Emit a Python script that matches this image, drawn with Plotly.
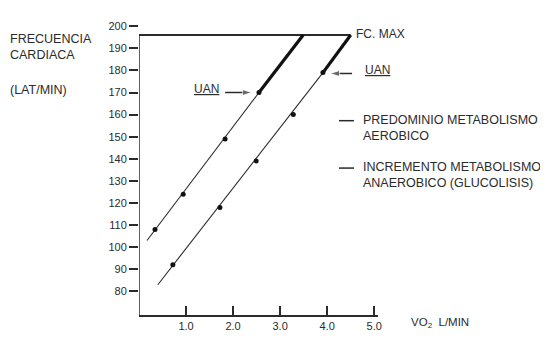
import plotly.graph_objects as go

# ---- data ----
# Line 1 (upper curve)
l1_thin_x = [0.17, 2.55]
l1_thin_y = [103, 170]
l1_thick_x = [2.55, 3.49]
l1_thick_y = [170, 196]
l1_pts_x = [0.34, 0.94, 1.83, 2.55]
l1_pts_y = [108, 124, 149, 170]

# Line 2 (lower curve)
l2_thin_x = [0.40, 3.91]
l2_thin_y = [83, 179]
l2_thick_x = [3.91, 4.50]
l2_thick_y = [179, 196]
l2_pts_x = [0.72, 1.72, 2.49, 3.28, 3.91]
l2_pts_y = [92, 118, 139, 160, 179]

fc_max = 196
fc_x = [0, 4.50]

# UAN arrows (tail, tip)
uan1_arrow_x = [1.83, 2.40]
uan1_arrow_y = [170, 170]
uan2_arrow_x = [4.53, 4.06]
uan2_arrow_y = [178.6, 178.6]

x_tickvals = [1, 2, 3, 4, 5]
x_ticktext = ["1.0", "2.0", "3.0", "4.0", "5.0"]
y_tickvals = [80, 90, 100, 110, 120, 130, 140, 150, 160, 170, 180, 190, 200]

# ---- layout geometry (page has an 8px body margin) ----
OFF = 8
W, H = 548 - OFF, 344 - OFF
PL, PR, PT, PB = 139, 378, 20, 327   # plot area in page pixels
L, R, T, B = PL - OFF, W - (PR - OFF), PT - OFF, H - (PB - OFF)
XR = [0, 5.08]
YR = [69.3, 201]
pw = PR - PL
ph = PB - PT


def px_x(p):
    return (p - PL) / pw


def px_y(p):
    return (PB - p) / ph


INK = "#2b2b2b"
FONT = "Liberation Sans, Arial, sans-serif"

fig = go.Figure()

# FC max line
fig.add_trace(go.Scatter(x=fc_x, y=[fc_max, fc_max], mode="lines",
                         line=dict(color=INK, width=2), hoverinfo="skip"))
# y axis line (ends at FC max)
fig.add_trace(go.Scatter(x=[0, 0], y=[YR[0], fc_max], mode="lines",
                         line=dict(color=INK, width=1.5), hoverinfo="skip"))

for tx, ty, kx, ky, px_, py_ in [
    (l1_thin_x, l1_thin_y, l1_thick_x, l1_thick_y, l1_pts_x, l1_pts_y),
    (l2_thin_x, l2_thin_y, l2_thick_x, l2_thick_y, l2_pts_x, l2_pts_y),
]:
    fig.add_trace(go.Scatter(x=tx, y=ty, mode="lines",
                             line=dict(color=INK, width=1.1), hoverinfo="skip"))
    fig.add_trace(go.Scatter(x=kx, y=ky, mode="lines",
                             line=dict(color="#111", width=3.2), hoverinfo="skip"))
    fig.add_trace(go.Scatter(x=px_, y=py_, mode="markers",
                             marker=dict(color="#111", size=5), hoverinfo="skip"))

# UAN arrows
for ax_, ay_ in [(uan1_arrow_x, uan1_arrow_y), (uan2_arrow_x, uan2_arrow_y)]:
    fig.add_trace(go.Scatter(x=ax_, y=ay_, mode="lines+markers",
                             line=dict(color=INK, width=1.5),
                             marker=dict(symbol="arrow", angleref="previous",
                                         size=[0, 10], color=INK),
                             hoverinfo="skip"))

ann = []
# FC. MAX label
ann.append(dict(x=4.57, y=fc_max + 0.3, xref="x", yref="y", text="FC. MAX",
                showarrow=False, xanchor="left", yanchor="middle",
                font=dict(size=12, color=INK, family=FONT)))
ann.append(dict(x=1.12, y=171.5, xref="x", yref="y", text="<u>UAN</u>",
                showarrow=False, xanchor="left", yanchor="middle",
                font=dict(size=12, color=INK, family=FONT)))
ann.append(dict(x=4.77, y=180.3, xref="x", yref="y", text="<u>UAN</u>",
                showarrow=False, xanchor="left", yanchor="middle",
                font=dict(size=12, color=INK, family=FONT)))

# left title
ann.append(dict(x=px_x(8), y=px_y(44), xref="paper", yref="paper",
                text="FRECUENCIA<br>CARDIACA", showarrow=False,
                xanchor="left", yanchor="middle", align="left",
                font=dict(size=12.5, color=INK, family=FONT)))
ann.append(dict(x=px_x(8), y=px_y(90), xref="paper", yref="paper",
                text="(LAT/MIN)", showarrow=False,
                xanchor="left", yanchor="middle", align="left",
                font=dict(size=12.5, color=INK, family=FONT)))

# right notes
ann.append(dict(x=px_x(361), y=px_y(129.5), xref="paper", yref="paper",
                text="PREDOMINIO METABOLISMO<br>AEROBICO", showarrow=False,
                xanchor="left", yanchor="middle", align="left",
                font=dict(size=12.5, color=INK, family=FONT)))
ann.append(dict(x=px_x(361), y=px_y(179.5), xref="paper", yref="paper",
                text="INCREMENTO METABOLISMO<br>ANAEROBICO (GLUCOLISIS)",
                showarrow=False, xanchor="left", yanchor="middle", align="left",
                font=dict(size=12.5, color=INK, family=FONT)))

# x-axis title
ann.append(dict(x=px_x(409), y=px_y(335), xref="paper", yref="paper",
                text="VO<sub>2</sub>  L/MIN", showarrow=False,
                xanchor="left", yanchor="middle",
                font=dict(size=11.5, color=INK, family=FONT)))

shapes = [
    dict(type="line", xref="paper", yref="paper",
         x0=px_x(339), x1=px_x(354), y0=px_y(122), y1=px_y(122),
         line=dict(color=INK, width=1.5)),
    dict(type="line", xref="paper", yref="paper",
         x0=px_x(339), x1=px_x(354), y0=px_y(172), y1=px_y(172),
         line=dict(color=INK, width=1.5)),
]

fig.update_layout(
    width=W, height=H,
    margin=dict(l=L, r=R, t=T, b=B, pad=0),
    paper_bgcolor="white", plot_bgcolor="white",
    showlegend=False,
    annotations=ann, shapes=shapes,
    font=dict(family=FONT, color=INK),
    xaxis=dict(range=XR, showgrid=False, zeroline=False,
               showline=True, linecolor=INK, linewidth=1.5,
               ticks="inside", ticklen=9, tickwidth=2, tickcolor=INK,
               tickvals=x_tickvals, ticktext=x_ticktext,
               tickfont=dict(size=11, color=INK, family=FONT)),
    yaxis=dict(range=YR, showgrid=False, zeroline=False, showline=False,
               ticks="outside", ticklen=9, tickwidth=2, tickcolor=INK,
               tickvals=y_tickvals,
               tickfont=dict(size=11, color=INK, family=FONT)),
)

fig.write_html("out.html")
